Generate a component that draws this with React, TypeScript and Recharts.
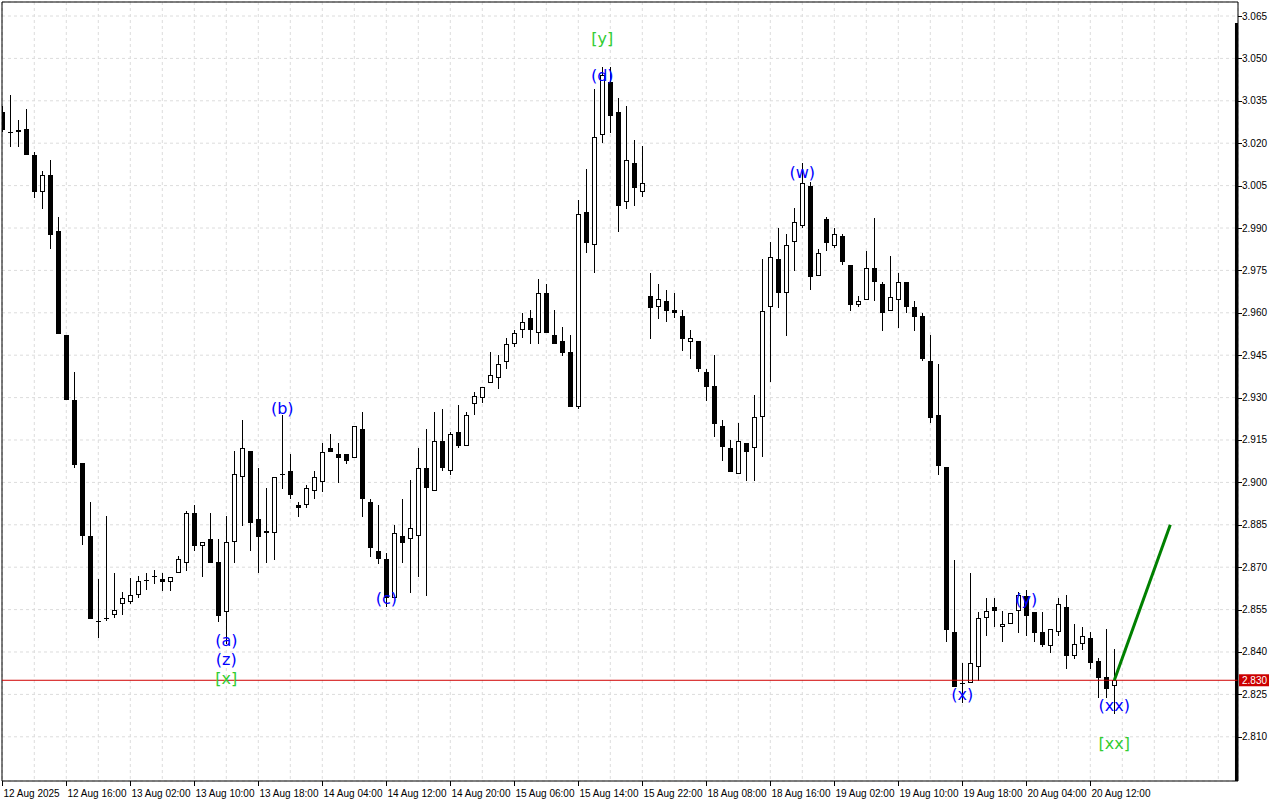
import React from 'react';
import {
  ComposedChart,
  Bar,
  Line,
  Scatter,
  XAxis,
  YAxis,
  CartesianGrid,
  ReferenceLine,
} from 'recharts';

// ---- data (hourly candles, 12 Aug 2025 .. 20 Aug 2025) ----
const opens = [
  3.031, 3.0237, 3.0238, 3.025, 3.016, 3.0029, 3.0089, 2.989, 2.9521, 2.9292,
  2.9068, 2.881, 2.8509, 2.8522, 2.853, 2.857, 2.8578, 2.8602, 2.8656, 2.8669,
  2.8658, 2.8649, 2.8678, 2.8716, 2.8891, 2.8776, 2.88, 2.8717, 2.854, 2.8788,
  2.9018, 2.9111, 2.8871, 2.882, 2.882, 2.903, 2.904, 2.8919, 2.8919, 2.897,
  2.9, 2.9121, 2.91, 2.91, 2.9088, 2.9189, 2.893, 2.8758, 2.8728, 2.859,
  2.881, 2.8799, 2.881, 2.905, 2.897, 2.9148, 2.904, 2.9179, 2.9129, 2.9277,
  2.9298, 2.9351, 2.9368, 2.9427, 2.9489, 2.9539, 2.9581, 2.9527, 2.9669, 2.9521,
  2.95, 2.946, 2.9268, 2.9958, 2.984, 3.0229, 3.0418, 3.0309, 2.9991, 3.0129,
  3.0028, 2.9659, 2.9619, 2.9642, 2.961, 2.9589, 2.9498, 2.95, 2.939, 2.9341,
  2.92, 2.9121, 2.9029, 2.9138, 2.9121, 2.923, 2.9619, 2.979, 2.9669, 2.9849,
  2.9908, 3.0049, 2.9729, 2.9931, 2.9838, 2.987, 2.9769, 2.9629, 2.9647, 2.9757,
  2.9702, 2.9608, 2.9647, 2.9708, 2.9619, 2.9589, 2.9428, 2.9239, 2.9053, 2.8471,
  2.8291, 2.8291, 2.8348, 2.8519, 2.8558, 2.8488, 2.8498, 2.8546, 2.8598, 2.854,
  2.8469, 2.8421, 2.847, 2.8558, 2.8387, 2.8427, 2.8448, 2.8368, 2.831, 2.828,
];
const highs = [
  3.033, 3.0369, 3.0282, 3.032, 3.0169, 3.0102, 3.0141, 2.9938, 2.9521, 2.9391,
  2.907, 2.893, 2.8657, 2.8881, 2.868, 2.8611, 2.8662, 2.8669, 2.868, 2.8691,
  2.8678, 2.8666, 2.874, 2.8899, 2.892, 2.8788, 2.8891, 2.8799, 2.8881, 2.9112,
  2.9221, 2.9111, 2.905, 2.8979, 2.9018, 2.9238, 2.91, 2.893, 2.8991, 2.9041,
  2.9138, 2.9171, 2.9138, 2.91, 2.92, 2.9248, 2.8941, 2.892, 2.8749, 2.8849,
  2.8941, 2.9008, 2.9121, 2.9189, 2.9248, 2.926, 2.9179, 2.9274, 2.9248, 2.932,
  2.9339, 2.946, 2.9451, 2.951, 2.9539, 2.9598, 2.961, 2.9718, 2.9702, 2.961,
  2.9551, 2.9521, 2.9999, 3.0109, 3.0392, 3.0471, 3.0471, 3.0359, 3.0333, 3.0211,
  3.019, 2.974, 2.9702, 2.9681, 2.9669, 2.961, 2.9539, 2.95, 2.94, 2.9451,
  2.9221, 2.915, 2.9209, 2.9138, 2.9309, 2.979, 2.9849, 2.9899, 2.9879, 2.997,
  3.0129, 3.0061, 2.9826, 2.994, 2.9899, 2.9879, 2.9769, 2.9659, 2.9818, 2.9937,
  2.9708, 2.98, 2.9741, 2.9708, 2.9641, 2.9599, 2.9521, 2.9419, 2.9053, 2.8727,
  2.836, 2.8678, 2.854, 2.859, 2.859, 2.8546, 2.8539, 2.8613, 2.8619, 2.854,
  2.854, 2.848, 2.8592, 2.8602, 2.8499, 2.8487, 2.8469, 2.838, 2.848, 2.841,
];
const lows = [
  3.024, 3.0188, 3.0188, 3.016, 3.0006, 2.9967, 2.9826, 2.9526, 2.929, 2.905,
  2.8779, 2.8517, 2.845, 2.8509, 2.8522, 2.853, 2.857, 2.8592, 2.8618, 2.8639,
  2.8617, 2.8617, 2.8678, 2.8688, 2.8758, 2.8666, 2.8716, 2.8507, 2.843, 2.8716,
  2.8846, 2.8758, 2.8678, 2.8716, 2.8725, 2.8977, 2.894, 2.8879, 2.8908, 2.894,
  2.8967, 2.9109, 2.8999, 2.9065, 2.9088, 2.8879, 2.8737, 2.871, 2.8558, 2.859,
  2.8716, 2.8608, 2.8666, 2.8599, 2.897, 2.904, 2.9026, 2.9121, 2.9129, 2.9238,
  2.928, 2.9351, 2.9329, 2.94, 2.9478, 2.951, 2.9489, 2.9489, 2.9527, 2.9489,
  2.9447, 2.9268, 2.9259, 2.981, 2.974, 3.02, 3.0237, 2.9887, 2.9967, 2.9979,
  3.0009, 2.9507, 2.9578, 2.9569, 2.9581, 2.9466, 2.9437, 2.939, 2.9289, 2.916,
  2.9077, 2.9038, 2.9029, 2.9006, 2.9006, 2.9089, 2.9356, 2.9618, 2.9519, 2.9749,
  2.9899, 2.968, 2.9729, 2.9818, 2.983, 2.9769, 2.9608, 2.9619, 2.9647, 2.9641,
  2.9537, 2.9608, 2.9547, 2.9599, 2.9537, 2.9428, 2.9209, 2.9026, 2.8435, 2.8277,
  2.8219, 2.8291, 2.8296, 2.8458, 2.8487, 2.8435, 2.8498, 2.8468, 2.8458, 2.8435,
  2.8419, 2.8398, 2.8455, 2.8339, 2.8377, 2.8407, 2.8339, 2.8237, 2.8237, 2.818,
];
const closes = [
  3.0247, 3.0238, 3.0248, 3.016, 3.0029, 3.0089, 2.9877, 2.9526, 2.929, 2.906,
  2.881, 2.8517, 2.8509, 2.8522, 2.8547, 2.8592, 2.86, 2.865, 2.8656, 2.8669,
  2.8649, 2.8666, 2.8728, 2.8891, 2.8776, 2.8788, 2.8716, 2.8528, 2.8788, 2.903,
  2.9121, 2.8857, 2.8808, 2.8829, 2.9018, 2.903, 2.8955, 2.8908, 2.8979, 2.9018,
  2.9109, 2.9109, 2.9088, 2.9077, 2.92, 2.894, 2.8769, 2.8728, 2.859, 2.882,
  2.8786, 2.8838, 2.905, 2.8979, 2.9148, 2.905, 2.9171, 2.9129, 2.9238, 2.9306,
  2.9339, 2.938, 2.9419, 2.9489, 2.9527, 2.9569, 2.9539, 2.9669, 2.9527, 2.9489,
  2.9459, 2.9268, 2.9948, 2.9848, 3.0221, 3.0441, 3.0297, 2.9979, 3.0141, 3.004,
  3.0058, 2.9618, 2.9648, 2.9607, 2.9598, 2.9507, 2.951, 2.94, 2.9339, 2.9207,
  2.9126, 2.9038, 2.9148, 2.9109, 2.923, 2.9607, 2.9798, 2.9669, 2.984, 2.992,
  3.0058, 2.9726, 2.9812, 2.9848, 2.9879, 2.9779, 2.9629, 2.9641, 2.9757, 2.9708,
  2.9599, 2.9657, 2.9708, 2.9619, 2.9586, 2.9437, 2.9229, 2.9059, 2.8478, 2.8277,
  2.8292, 2.836, 2.8519, 2.8546, 2.8546, 2.8498, 2.8539, 2.8602, 2.8528, 2.8468,
  2.8425, 2.848, 2.8569, 2.8387, 2.8427, 2.8458, 2.836, 2.8309, 2.8268, 2.83,
];

// x-axis labels, one every 8 candles
const timeLabels = [
  '12 Aug 2025', '12 Aug 16:00', '13 Aug 02:00', '13 Aug 10:00', '13 Aug 18:00',
  '14 Aug 04:00', '14 Aug 12:00', '14 Aug 20:00', '15 Aug 06:00', '15 Aug 14:00',
  '15 Aug 22:00', '18 Aug 08:00', '18 Aug 16:00', '19 Aug 02:00', '19 Aug 10:00',
  '19 Aug 18:00', '20 Aug 04:00', '20 Aug 12:00',
];
const labelStep = 8;
const gridStep = 4;

const priceTicks = [
  2.81, 2.825, 2.84, 2.855, 2.87, 2.885, 2.9, 2.915, 2.93, 2.945, 2.96, 2.975,
  2.99, 3.005, 3.02, 3.035, 3.05, 3.065,
];
const lastPrice = 2.83;

// wave labels
const waveTexts = ['[y]', '(d)', '(w)', '(b)', '(c)', '(a)', '(z)', '[x]', '(x)', '(y)', '(xx)', '[xx]'];
const waveIndex = [75, 75, 100, 35, 48, 28, 28, 28, 120, 128, 139, 139];
const wavePrice = [3.0569, 3.0438, 3.0098, 2.926, 2.8591, 2.8442, 2.8375, 2.8305, 2.8251, 2.8584, 2.8209, 2.8078];
const waveKind = ['major', 'minor', 'minor', 'minor', 'minor', 'minor', 'minor', 'major', 'minor', 'minor', 'minor', 'major'];

// projection
const projectionIndex = [139, 146];
const projectionPrice = [2.83, 2.885];

// ---- derived tables ----
const candles = opens.map((o, i) => ({
  i,
  o,
  h: highs[i],
  l: lows[i],
  c: closes[i],
  range: [lows[i], highs[i]],
}));
const waveData = waveTexts.map((t, k) => ({ i: waveIndex[k], p: wavePrice[k], t, kind: waveKind[k] }));
const projection = projectionIndex.map((i, k) => ({ i, p: projectionPrice[k] }));

const xTicks: number[] = [];
for (let v = 0; v <= 152; v += gridStep) xTicks.push(v);

const X_DOMAIN: [number, number] = [-0.0375, 154.4625];
const Y_DOMAIN: [number, number] = [2.794363, 3.069953];

const AXIS_FONT = '"Liberation Sans", Arial, sans-serif';

const CandleShape = (props: any) => {
  const { x, y, width, height, index } = props;
  const d = candles[index];
  if (!d) return null;
  const top = Math.min(y, y + height);
  const hgt = Math.abs(height);
  const k = d.h > d.l ? hgt / (d.h - d.l) : 0;
  const yO = top + (d.h - d.o) * k;
  const yC = top + (d.h - d.c) * k;
  const cx = Math.floor(x + width / 2);
  const wickTop = Math.round(top);
  const wickBot = Math.round(top + hgt);
  const bTop = Math.round(Math.min(yO, yC));
  const bBot = Math.round(Math.max(yO, yC));
  const bull = d.c > d.o;
  const parts: any[] = [];
  parts.push(
    <line key="w" x1={cx + 0.5} x2={cx + 0.5} y1={wickTop} y2={wickBot} stroke="#000" strokeWidth={1} />
  );
  if (bBot - bTop < 2) {
    parts.push(
      <line key="b" x1={cx - 2} x2={cx + 3} y1={bTop + 0.5} y2={bTop + 0.5} stroke="#000" strokeWidth={1} />
    );
  } else if (bull) {
    parts.push(
      <rect key="b" x={cx - 1.5} y={bTop + 0.5} width={4} height={bBot - bTop - 1} fill="#fff" stroke="#000" strokeWidth={1} />
    );
  } else {
    parts.push(<rect key="b" x={cx - 2} y={bTop} width={5} height={bBot - bTop} fill="#000" />);
  }
  return <g shapeRendering="crispEdges">{parts}</g>;
};

const WaveLabel = (props: any) => {
  const { cx, cy, payload } = props;
  if (cx == null || cy == null) return null;
  const color = payload.kind === 'major' ? '#32cd32' : '#0000ff';
  return (
    <text
      x={cx}
      y={cy}
      textAnchor="middle"
      dominantBaseline="central"
      fontFamily='"DejaVu Sans", sans-serif'
      fontSize={16}
      fill={color}
    >
      {payload.t}
    </text>
  );
};

const XTick = (props: any) => {
  const { x, y, payload } = props;
  const v = payload.value;
  if (v % labelStep !== 0) return null;
  const label = timeLabels[v / labelStep];
  if (!label) return null;
  const tx = Math.floor(x) + 0.5;
  return (
    <g>
      <line x1={tx} x2={tx} y1={y} y2={y + 5} stroke="#000" strokeWidth={1} />
      <text x={tx + 1} y={y + 16} fontFamily={AXIS_FONT} fontSize={10} fill="#000" textAnchor="start">
        {label}
      </text>
    </g>
  );
};

const YTick = (props: any) => {
  const { x, y, payload } = props;
  const ty = Math.round(y) + 0.5;
  return (
    <g>
      <line x1={x} x2={x + 4} y1={ty} y2={ty} stroke="#000" strokeWidth={1} />
      <text x={x + 4} y={y + 3.5} fontFamily={AXIS_FONT} fontSize={10} fill="#000" textAnchor="start">
        {Number(payload.value).toFixed(3)}
      </text>
    </g>
  );
};

const PriceTag = (props: any) => {
  const vb = props.viewBox || {};
  const x = (vb.x || 0) + (vb.width || 0) + 1;
  const y = vb.y || 0;
  return (
    <g>
      <rect x={x} y={y - 6} width={30} height={12} fill="#cc0000" />
      <text x={x + 3} y={y + 4} fontFamily={AXIS_FONT} fontSize={10} fill="#fff">
        {lastPrice.toFixed(3)}
      </text>
    </g>
  );
};

export default function App() {
  return (
    <div style={{ position: 'absolute', left: 0, top: 0, width: 1280, height: 800, background: '#fff' }}>
      <ComposedChart
        width={1280}
        height={800}
        data={candles}
        margin={{ top: 2, right: 0, left: 2, bottom: 0 }}
      >
        <CartesianGrid stroke="#dcdcdc" strokeDasharray="3 3" />
        <XAxis
          dataKey="i"
          type="number"
          domain={X_DOMAIN}
          allowDataOverflow
          ticks={xTicks}
          interval={0}
          tick={<XTick />}
          tickLine={false}
          tickSize={0}
          tickMargin={0}
          height={19}
          axisLine={{ stroke: '#000' }}
        />
        <YAxis
          orientation="right"
          type="number"
          domain={Y_DOMAIN}
          allowDataOverflow
          ticks={priceTicks}
          interval={0}
          tick={<YTick />}
          tickLine={false}
          tickSize={0}
          tickMargin={0}
          width={42}
          axisLine={{ stroke: '#000' }}
        />
        <ReferenceLine x={X_DOMAIN[0]} stroke="#000" />
        <ReferenceLine y={Y_DOMAIN[1]} stroke="#000" />
        <ReferenceLine
          segment={[
            { x: X_DOMAIN[1] - 0.19, y: 3.0625 },
            { x: X_DOMAIN[1] - 0.19, y: Y_DOMAIN[0] },
          ]}
          stroke="#000"
          strokeWidth={3}
        />
        <ReferenceLine y={lastPrice} stroke="#d00000" strokeWidth={1} label={<PriceTag />} />
        <Bar dataKey="range" barSize={6} shape={<CandleShape />} isAnimationActive={false} />
        <Line
          data={projection}
          dataKey="p"
          stroke="#008000"
          strokeWidth={3}
          dot={false}
          activeDot={false}
          isAnimationActive={false}
        />
        <Scatter data={waveData} dataKey="p" shape={<WaveLabel />} isAnimationActive={false} />
      </ComposedChart>
    </div>
  );
}
